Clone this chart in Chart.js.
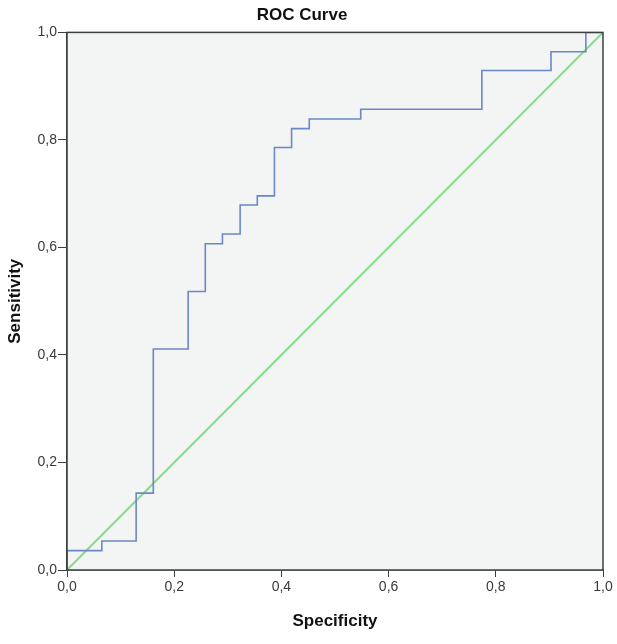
<!DOCTYPE html>
<html>
<head>
<meta charset="utf-8">
<script src="https://cdn.jsdelivr.net/npm/chart.js@4.4.1/dist/chart.umd.min.js"></script>
<style>
  html, body { margin: 0; padding: 0; background: #ffffff; }
  #wrap { width: 617px; height: 644px; }
</style>
</head>
<body>
<div id="wrap"><canvas id="roc"></canvas></div>
<script>
// ROC curve (1 - specificity on x, sensitivity on y)
const specificity = [0, 0, 0.065, 0.129, 0.161, 0.226, 0.258, 0.290, 0.323, 0.355, 0.387, 0.419, 0.452, 0.548, 0.774, 0.903, 0.968, 1.0];
const sensitivity = [0, 0.036, 0.054, 0.143, 0.411, 0.518, 0.607, 0.625, 0.679, 0.696, 0.786, 0.821, 0.839, 0.857, 0.929, 0.964, 1.0, 1.0];
const refX = [0, 1];
const refY = [0, 1];
const tickValues = [0, 0.2, 0.4, 0.6, 0.8, 1.0];

const fontFamily = "'Liberation Sans', Arial, sans-serif";

const rocPoints = specificity.map((x, i) => ({ x: x, y: sensitivity[i] }));
const refPoints = refX.map((x, i) => ({ x: x, y: refY[i] }));

const plotFrame = {
    id: 'plotFrame',
    beforeDatasetsDraw(chart) {
        const { ctx, chartArea: a } = chart;
        ctx.save();
        ctx.fillStyle = '#f3f4f4';
        ctx.fillRect(a.left, a.top, a.right - a.left, a.bottom - a.top);
        ctx.restore();
    },
    afterDatasetsDraw(chart) {
        const { ctx, chartArea: a } = chart;
        ctx.save();
        ctx.strokeStyle = '#3a4040';
        ctx.lineWidth = 1.5;
        ctx.strokeRect(a.left, a.top, a.right - a.left, a.bottom - a.top);
        ctx.restore();
    }
};

function fmt(v) {
    return v.toFixed(1).replace('.', ',');
}

new Chart(document.getElementById('roc'), {
    type: 'line',
    data: {
        datasets: [
            {
                label: 'ROC',
                data: rocPoints,
                borderColor: '#6a88c6',
                borderWidth: 1.6,
                pointRadius: 0,
                stepped: 'before',
                fill: false
            },
            {
                label: 'Reference',
                data: refPoints,
                borderColor: '#86dc86',
                borderWidth: 2,
                pointRadius: 0,
                fill: false
            }
        ]
    },
    options: {
        responsive: true,
        maintainAspectRatio: false,
        animation: false,
        layout: { padding: { left: 1, right: 14, top: 0, bottom: 8 } },
        plugins: {
            legend: { display: false },
            tooltip: { enabled: false },
            title: {
                display: true,
                text: 'ROC Curve',
                color: '#111',
                font: { family: fontFamily, size: 17, weight: 'bold' },
                padding: { top: 5, bottom: 7 }
            }
        },
        scales: {
            x: {
                type: 'linear',
                min: 0,
                max: 1,
                afterBuildTicks: (scale) => { scale.ticks = tickValues.map(v => ({ value: v })); },
                afterFit: (scale) => { scale.height = 66; },
                ticks: {
                    color: '#3a3a3a',
                    font: { family: fontFamily, size: 14 },
                    padding: 2,
                    maxRotation: 0,
                    callback: (v) => fmt(v)
                },
                grid: { drawOnChartArea: false, drawTicks: true, tickLength: 7, color: '#3a4040' },
                border: { display: true, color: '#3a4040', width: 1.5 },
                title: {
                    display: true,
                    text: 'Specificity',
                    color: '#111',
                    font: { family: fontFamily, size: 17, weight: 'bold' }
                }
            },
            y: {
                type: 'linear',
                min: 0,
                max: 1,
                afterBuildTicks: (scale) => { scale.ticks = tickValues.map(v => ({ value: v })); },
                afterFit: (scale) => { scale.width = 66; },
                ticks: {
                    color: '#3a3a3a',
                    font: { family: fontFamily, size: 14 },
                    padding: 1,
                    callback: (v) => fmt(v)
                },
                grid: { drawOnChartArea: false, drawTicks: true, tickLength: 9, color: '#3a4040' },
                border: { display: true, color: '#3a4040', width: 1.5 },
                title: {
                    display: true,
                    text: 'Sensitivity',
                    color: '#111',
                    font: { family: fontFamily, size: 17, weight: 'bold' }
                }
            }
        }
    },
    plugins: [plotFrame]
});
</script>
</body>
</html>
